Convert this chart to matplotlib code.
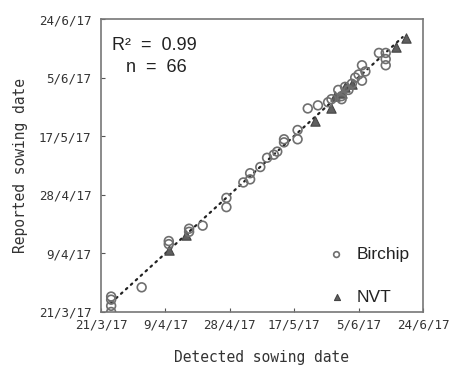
import numpy as np
import pandas as pd
import matplotlib
matplotlib.use("Agg")
import matplotlib.pyplot as plt
import matplotlib.dates as mdates

# Birchip: detected vs reported sowing dates
birchip_detected = [
    "2017-03-24", "2017-03-24", "2017-03-24", "2017-03-24", "2017-04-02",
    "2017-04-10", "2017-04-10", "2017-04-16", "2017-04-16", "2017-04-20",
    "2017-04-27", "2017-04-27", "2017-05-02", "2017-05-04", "2017-05-04",
    "2017-05-07", "2017-05-09", "2017-05-11", "2017-05-12", "2017-05-14",
    "2017-05-14", "2017-05-18", "2017-05-18", "2017-05-21", "2017-05-24",
    "2017-05-27", "2017-05-28", "2017-05-30", "2017-05-31", "2017-05-31",
    "2017-06-01", "2017-06-02", "2017-06-03", "2017-06-04", "2017-06-05",
    "2017-06-06", "2017-06-06", "2017-06-07", "2017-06-11", "2017-06-13",
    "2017-06-13", "2017-06-13",
]
birchip_reported = [
    "2017-03-26", "2017-03-25", "2017-03-23", "2017-03-21", "2017-03-29",
    "2017-04-13", "2017-04-12", "2017-04-17", "2017-04-16", "2017-04-18",
    "2017-04-27", "2017-04-24", "2017-05-02", "2017-05-05", "2017-05-03",
    "2017-05-07", "2017-05-10", "2017-05-11", "2017-05-12", "2017-05-15",
    "2017-05-16", "2017-05-19", "2017-05-16", "2017-05-26", "2017-05-27",
    "2017-05-28", "2017-05-29", "2017-06-01", "2017-05-29", "2017-05-30",
    "2017-06-02", "2017-06-01", "2017-06-03", "2017-06-05", "2017-06-06",
    "2017-06-09", "2017-06-04", "2017-06-07", "2017-06-13", "2017-06-13",
    "2017-06-11", "2017-06-09",
]

# NVT trials
nvt_detected = [
    "2017-04-10", "2017-04-15", "2017-05-23", "2017-05-28", "2017-05-29",
    "2017-05-31", "2017-06-01", "2017-06-03", "2017-06-16", "2017-06-19",
]
nvt_reported = [
    "2017-04-10", "2017-04-15", "2017-05-22", "2017-05-26", "2017-05-30",
    "2017-05-31", "2017-06-02", "2017-06-03", "2017-06-15", "2017-06-18",
]

tick_dates = ["2017-03-21", "2017-04-09", "2017-04-28",
              "2017-05-17", "2017-06-05", "2017-06-24"]
tick_labels = ["21/3/17", "9/4/17", "28/4/17", "17/5/17", "5/6/17", "24/6/17"]

bx = pd.to_datetime(birchip_detected)
by = pd.to_datetime(birchip_reported)
nx = pd.to_datetime(nvt_detected)
ny = pd.to_datetime(nvt_reported)
ticks = pd.to_datetime(tick_dates)

mono = "DejaVu Sans Mono"
sans = "Liberation Sans"
grey = "#555555"

fig = plt.figure(figsize=(4.5, 3.69), dpi=100)
ax = fig.add_axes([0.2244, 0.1545, 0.7156, 0.794])

# regression line (dotted)
allx = mdates.date2num(np.concatenate([bx.values, nx.values]))
ally = mdates.date2num(np.concatenate([by.values, ny.values]))
k, b = np.polyfit(allx, ally, 1)
lx = np.array([allx.min(), allx.max() - 1])
ax.plot(mdates.num2date(lx), mdates.num2date(k * lx + b),
        color="#222222", lw=1.6, linestyle=(0, (0.8, 2.2)),
        dash_capstyle="round", zorder=1)

ax.scatter(bx, by, s=40, facecolors="none", edgecolors="#6f6f6f",
           linewidths=1.2, label="Birchip", zorder=3)
ax.scatter(nx, ny, s=45, marker="^", facecolors="#5f5f5f",
           edgecolors="#444444", linewidths=0.8, label="NVT", zorder=2)

ax.set_xlim(ticks[0], ticks[-1])
ax.set_ylim(ticks[0], ticks[-1])
ax.set_xticks(ticks)
ax.set_yticks(ticks)
ax.set_xticklabels(tick_labels, fontfamily=mono, fontsize=9, color="#333333")
ax.set_yticklabels(tick_labels, fontfamily=mono, fontsize=9, color="#333333")
ax.tick_params(direction="in", length=3, color=grey)
ax.tick_params(axis="x", pad=5)
ax.tick_params(axis="y", pad=7)
for s in ax.spines.values():
    s.set_color("#777777")
    s.set_linewidth(1.2)

ax.set_xlabel("Detected sowing date", fontfamily=mono, fontsize=10.5,
              color="#333333", labelpad=13)
ax.set_ylabel("Reported sowing date", fontfamily=mono, fontsize=10.5,
              color="#333333", labelpad=8)

ax.text(0.034, 0.894, "R\u00b2  =  0.99", transform=ax.transAxes,
        fontsize=13, color="#222222", family=sans, va="baseline")
ax.text(0.078, 0.819, "n  =  66", transform=ax.transAxes,
        fontsize=13, color="#222222", family=sans, va="baseline")

leg = ax.legend(loc="lower right", bbox_to_anchor=(0.98, 0.0),
                frameon=False, labelspacing=1.6, markerscale=0.65,
                handlelength=1.0, handletextpad=0.65,
                borderaxespad=0.0, borderpad=0.4,
                prop={"family": sans, "size": 12.5})
for t in leg.get_texts():
    t.set_color("#222222")

fig.savefig("out.png", dpi=100)
